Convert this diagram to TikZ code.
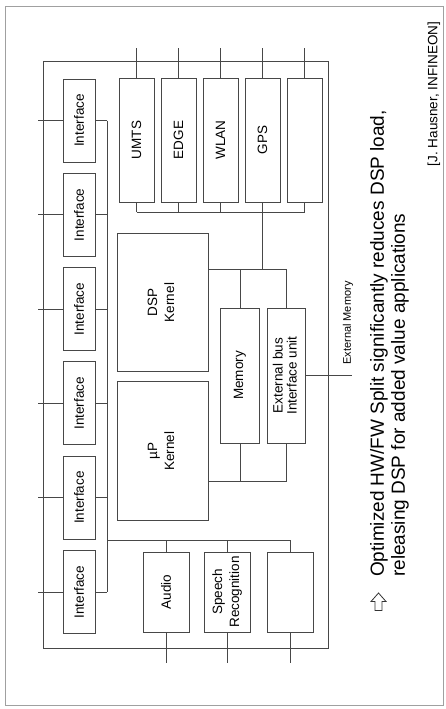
\documentclass[tikz,border=0pt]{standalone}
\usepackage{fontspec}
\setmainfont{Liberation Sans}
\definecolor{lc}{HTML}{474747}
\definecolor{framec}{HTML}{A0A0A0}
\begin{document}
\begin{tikzpicture}[x=1pt,y=-1pt,
  box/.style={draw=lc, line width=1pt, fill=white, inner sep=0pt, align=center,
    font=\fontsize{13.5}{16}\selectfont},
  wire/.style={draw=lc, line width=0.9pt},
  iface/.style={box, minimum width=32pt, minimum height=83pt},
  topbox/.style={box, minimum width=35pt, minimum height=124pt},
  botbox/.style={box, minimum width=46pt, minimum height=80pt},
  membox/.style={box, minimum width=38.5pt, minimum height=135pt},
  kernel/.style={box, minimum width=91pt, minimum height=138.5pt},
  rtext/.style={rotate=90, inner sep=0pt},
]
\useasboundingbox (0,0) rectangle (446,709);
\fill[white] (0,0) rectangle (446,709);

% page frame and chip frame
\node[draw=framec, line width=1pt, minimum width=438pt, minimum height=698pt, inner sep=0pt] (page) at (224,356) {};
\node[draw=lc, line width=1pt, minimum width=285pt, minimum height=586pt, inner sep=0pt] (chip) at (185.5,355) {};

% coordinates for free ends and buses
\coordinate (inL) at (38,0);
\coordinate (busL) at (107,0);
\coordinate (outT) at (0,48);
\coordinate (tbus) at (0,212);
\coordinate (dbus) at (0,269.5);
\coordinate (ubus) at (0,481.5);
\coordinate (abus) at (0,540);
\coordinate (outB) at (0,663);
\coordinate (emem) at (352,0);

% interfaces
\node[iface] (if1) at (79,120.5) {\rotatebox{90}{Interface}};
\node[iface] (if2) at (79,214.8) {\rotatebox{90}{Interface}};
\node[iface] (if3) at (79,309.1) {\rotatebox{90}{Interface}};
\node[iface] (if4) at (79,403.4) {\rotatebox{90}{Interface}};
\node[iface] (if5) at (79,497.7) {\rotatebox{90}{Interface}};
\node[iface] (if6) at (79,592) {\rotatebox{90}{Interface}};

% top row
\node[topbox] (umts) at (136.5,140) {\rotatebox{90}{UMTS}};
\node[topbox] (edge) at (178.5,140) {\rotatebox{90}{EDGE}};
\node[topbox] (wlan) at (220.5,140) {\rotatebox{90}{WLAN}};
\node[topbox] (gps) at (262.5,140) {\rotatebox{90}{GPS}};
\node[topbox] (tblank) at (304.5,140) {};

% kernels
\node[kernel] (dsp) at (162.5,302.5) {\rotatebox{90}{\begin{tabular}{@{}c@{}}DSP\\[1pt]Kernel\end{tabular}}};
\node[kernel] (up) at (162.5,451) {\rotatebox{90}{\begin{tabular}{@{}c@{}}µP\\[1pt]Kernel\end{tabular}}};

% memory and external bus unit
\node[membox] (mem) at (240,375.5) {\rotatebox{90}{Memory}};
\node[membox] (ext) at (286.5,375.5) {\rotatebox{90}{\begin{tabular}{@{}c@{}}External bus\\[-2pt]Interface unit\end{tabular}}};

% bottom row
\node[botbox] (audio) at (166,592) {\rotatebox{90}{Audio}};
\node[botbox] (speech) at (227.5,592) {\rotatebox{90}{\begin{tabular}{@{}c@{}}Speech\\[1pt]Recognition\end{tabular}}};
\node[botbox] (bblank) at (290,592) {};

% interface connectors
\foreach \i in {if1,if2,if3,if4,if5,if6}{
  \draw[wire] (\i.west) -- (\i.west -| inL);
  \draw[wire] (\i.east) -- (\i.east -| busL);
}
\draw[wire] (if1.east -| busL) -- (if6.east -| busL);

% top row connectors
\foreach \b in {umts,edge,wlan,gps,tblank}{
  \draw[wire] (\b.north) -- (\b.north |- outT);
  \draw[wire] (\b.south) -- (\b.south |- tbus);
}
\draw[wire] (umts.south |- tbus) -- (tblank.south |- tbus);
\draw[wire] (gps.south |- tbus) -- (gps.south |- dbus);

% DSP bus
\draw[wire] (dsp.east |- dbus) -- (ext.north |- dbus);
\draw[wire] (mem.north) -- (mem.north |- dbus);
\draw[wire] (ext.north) -- (ext.north |- dbus);

% uP bus
\draw[wire] (up.east |- ubus) -- (ext.south |- ubus);
\draw[wire] (mem.south) -- (mem.south |- ubus);
\draw[wire] (ext.south) -- (ext.south |- ubus);

% external memory
\draw[wire] (ext.east) -- (ext.east -| emem);
\node[rtext, font=\fontsize{11}{13}\selectfont] (emlbl) at (348,323) {External Memory};

% audio bus
\draw[wire] (busL |- abus) -- (bblank.north |- abus);
\foreach \b in {audio,speech,bblank}{
  \draw[wire] (\b.north) -- (\b.north |- abus);
  \draw[wire] (\b.south) -- (\b.south |- outB);
}

% caption
\draw[draw=black!80, line width=0.8pt, line join=miter]
  (378.5,593) -- (386,601.5) -- (382,601.5) -- (382,610.5) -- (375,610.5) -- (375,601.5) -- (371,601.5) -- cycle;
\node[rtext, anchor=north west, align=left, font=\fontsize{19}{21}\selectfont] (caption) at (370,577)
  {Optimized HW/FW Split significantly reduces DSP load,\\releasing DSP for added value applications};
\node[rtext, font=\fontsize{13.5}{16}\selectfont] (cite) at (434,94) {[J. Hausner, INFINEON]};
\end{tikzpicture}
\end{document}
